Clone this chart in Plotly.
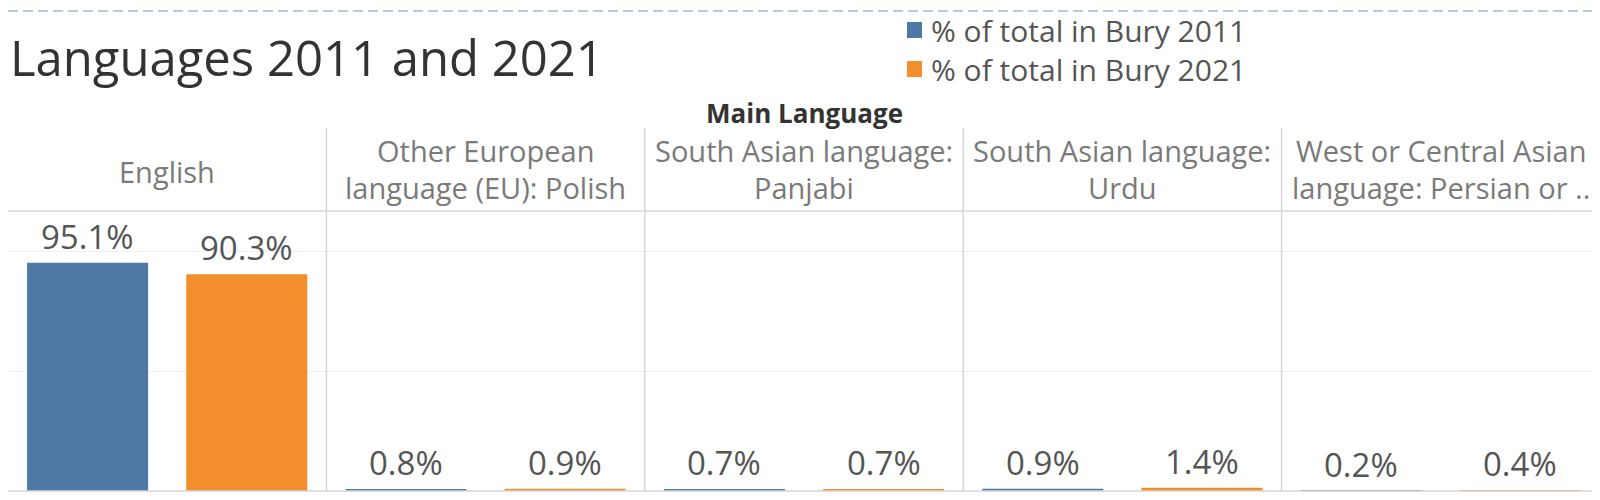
import plotly.graph_objects as go

# ---- data ----
languages = ["English", "Other European language (EU): Polish", "South Asian language: Panjabi",
             "South Asian language: Urdu", "West or Central Asian language: Persian or Farsi"]
header_line1 = ["English", "Other European", "South Asian language:", "South Asian language:",
                "West or Central Asian"]
header_line2 = ["", "language (EU): Polish", "Panjabi", "Urdu", "language: Persian or .."]
pct_2011 = [95.1, 0.8, 0.7, 0.9, 0.2]
pct_2021 = [90.3, 0.9, 0.7, 1.4, 0.4]
series_names = ["% of total in Bury 2011", "% of total in Bury 2021"]

BLUE = "#4e79a7"
ORANGE = "#f28e2b"
FONT = "Open Sans"
colors = [BLUE, ORANGE]

W, H = 1600, 500
ML, MR, MT, MB = 0, 8, 203, 17
PH = H - MT - MB  # plot height in px
PW = W - ML - MR


def py(px_y):
    """pixel y (from top of figure) -> paper y"""
    return (H - MB - px_y) / PH


def pxx(px_x):
    """pixel x -> paper x"""
    return (px_x - ML) / PW


fig = go.Figure()
fig.add_trace(go.Bar(x=languages, y=pct_2011, name=series_names[0], marker_color=BLUE,
                     marker_line_width=0, showlegend=False))
fig.add_trace(go.Bar(x=languages, y=pct_2021, name=series_names[1], marker_color=ORANGE,
                     marker_line_width=0, showlegend=False))

annotations = []
# bar value labels
for i, (a, b) in enumerate(zip(pct_2011, pct_2021)):
    for off, v in ((-0.25, a), (0.25, b)):
        annotations.append(dict(x=i + off, y=v, xref="x", yref="y", text=f"{v:.1f}%",
                                showarrow=False, yanchor="bottom", yshift=2,
                                font=dict(family=FONT, size=33, color="#555555")))
# column headers
hdr_font = dict(family=FONT, size=29, color="#7a7a7a")
for i, (l1, l2) in enumerate(zip(header_line1, header_line2)):
    if l2:
        annotations.append(dict(x=i, y=py(142), xref="x", yref="paper", text=l1, showarrow=False,
                                yanchor="middle", xanchor="center", font=hdr_font))
        annotations.append(dict(x=i, y=py(179), xref="x", yref="paper", text=l2, showarrow=False,
                                yanchor="middle", xanchor="center", font=hdr_font))
    else:
        annotations.append(dict(x=i, y=py(163), xref="x", yref="paper", text=l1, showarrow=False,
                                yanchor="middle", xanchor="center", font=hdr_font))
annotations.append(dict(x=0.5, y=py(105), xref="paper", yref="paper", text="<b>Main Language</b>",
                        showarrow=False, yanchor="middle", xanchor="center",
                        font=dict(family=FONT, size=26, color="#333333")))

shapes = []
# legend (manual)
for k, (name, col) in enumerate(zip(series_names, colors)):
    yc = 22 + 39 * k
    shapes.append(dict(type="rect", xref="paper", yref="paper", x0=pxx(899), x1=pxx(914),
                       y0=py(yc + 8), y1=py(yc - 8), fillcolor=col, line=dict(width=0)))
    annotations.append(dict(x=pxx(921), y=py(yc), xref="paper", yref="paper", text=name,
                            showarrow=False, xanchor="left", yanchor="middle",
                            font=dict(family=FONT, size=30, color="#555555")))

n = len(languages)
# vertical separators
for i in range(n - 1):
    shapes.append(dict(type="line", xref="x", yref="paper", x0=i + 0.5, x1=i + 0.5,
                       y0=0, y1=py(120), line=dict(color="#d6d6d6", width=1.5)))
shapes.append(dict(type="line", xref="x", yref="paper", x0=n - 0.5, x1=n - 0.5,
                   y0=0, y1=py(100), line=dict(color="#d6d6d6", width=1.5)))
# header bottom line and baseline
shapes.append(dict(type="line", xref="paper", yref="paper", x0=0, x1=1, y0=1, y1=1,
                   line=dict(color="#d6d6d6", width=1.5)))
shapes.append(dict(type="line", xref="paper", yref="paper", x0=0, x1=1, y0=0, y1=0,
                   line=dict(color="#d6d6d6", width=1.5)))
# dashed top border
shapes.append(dict(type="line", xref="paper", yref="paper", x0=0, x1=W / PW,
                   y0=py(3), y1=py(3), line=dict(color="#bccbdd", width=2, dash="10px,5px")))

fig.update_layout(
    width=W, height=H, autosize=False,
    margin=dict(l=ML, r=MR, t=MT, b=MB, pad=0),
    paper_bgcolor="white", plot_bgcolor="white",
    barmode="group", bargap=0, bargroupgap=0.24,
    showlegend=False,
    title=dict(text="Languages 2011 and 2021", x=2 / W, xanchor="left", xref="container",
               y=1 - 51 / H, yanchor="middle", yref="container",
               font=dict(family=FONT, size=49, color="#333333")),
    xaxis=dict(range=[-0.5, n - 0.5], showticklabels=False, ticks="", showgrid=False,
               zeroline=False, fixedrange=True),
    yaxis=dict(range=[0, PH / 2.4], dtick=50, showticklabels=False, ticks="",
               showgrid=True, gridcolor="#f0f0f0", gridwidth=1, zeroline=False, fixedrange=True),
    annotations=annotations, shapes=shapes,
    font=dict(family=FONT),
)

fig.write_html("out.html")
